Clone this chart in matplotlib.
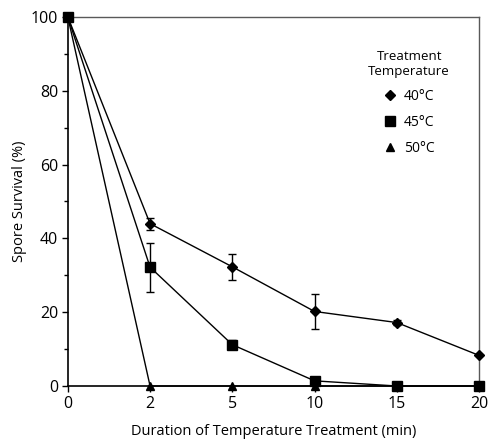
# spore survival vs heat treatment duration
import numpy as np
import matplotlib
matplotlib.use("Agg")
import matplotlib.pyplot as plt
import matplotlib.lines as mlines

plt.rcParams['font.family'] = ['Open Sans', 'DejaVu Sans']

# DATA
durations = ['0', '2', '5', '10', '15', '20']

surv_40 = [100, 44, 32.3, 20.2, 17.2, 8.3]
err_40 = [0, 1.6, 3.5, 4.7, 0.8, 0]

surv_45 = [100, 32.2, 11.2, 1.4, 0, 0]
err_45 = [0, 6.6, 1.3, 0, 0, 0]

surv_50 = [100, 0, 0, 0, 0, 0]

labels = ['40\u00b0C', '45\u00b0C', '50\u00b0C']
markers = ['D', 's', '^']
msizes = [5, 7.5, 6]


fig = plt.figure(figsize=(4.88, 4.4), dpi=100)
ax = fig.add_axes([0.139, 0.1227, 0.8426, 0.8387])

x = np.arange(len(durations))

l50, = ax.plot(x, surv_50, color='black', lw=1, marker=markers[2], ms=msizes[2],
               zorder=2, clip_on=False)
e40 = ax.errorbar(x, surv_40, yerr=err_40, color='black', lw=1, marker=markers[0],
                  ms=msizes[0], capsize=3, elinewidth=1, capthick=1, zorder=3)
e45 = ax.errorbar(x, surv_45, yerr=err_45, color='black', lw=1, marker=markers[1],
                  ms=msizes[1], capsize=3, elinewidth=1, capthick=1, zorder=4)
for eb in [e40, e45]:
    for art in eb.lines[0:1]:
        art.set_clip_on(False)

# axes setup
ax.set_xlim(0, len(durations) - 1)
ax.set_ylim(0, 100)
ax.set_xticks(x)
ax.set_xticklabels(durations)
ax.set_yticks([0, 20, 40, 60, 80, 100])
ax.set_yticks([10, 30, 50, 70, 90], minor=True)
ax.tick_params(axis='both', which='major', direction='out', length=4, width=1,
               labelsize=11.5, pad=3)
ax.tick_params(axis='y', which='minor', direction='out', length=3, width=1)

for side in ['left', 'bottom']:
    ax.spines[side].set_linewidth(1.2)
for side in ['top', 'right']:
    ax.spines[side].set_linewidth(1)
    ax.spines[side].set_color('0.35')

ax.set_xlabel('Duration of Temperature Treatment (min)', fontsize=10.5, labelpad=9)
ax.set_ylabel('Spore Survival (%)', fontsize=10.5, labelpad=3)

# legend (markers only)
handles = [mlines.Line2D([], [], color='black', marker=m, ms=s, linestyle='none')
           for m, s in zip(markers, msizes)]
leg = ax.legend(handles, labels, title='Treatment\nTemperature', frameon=False,
                loc='upper center', bbox_to_anchor=(0.83, 0.93), fontsize=10,
                title_fontsize=9.5, handlelength=1, handletextpad=0.5,
                labelspacing=0.8, borderpad=0)
leg.get_title().set_multialignment('center')

fig.savefig('out.png', dpi=100)
